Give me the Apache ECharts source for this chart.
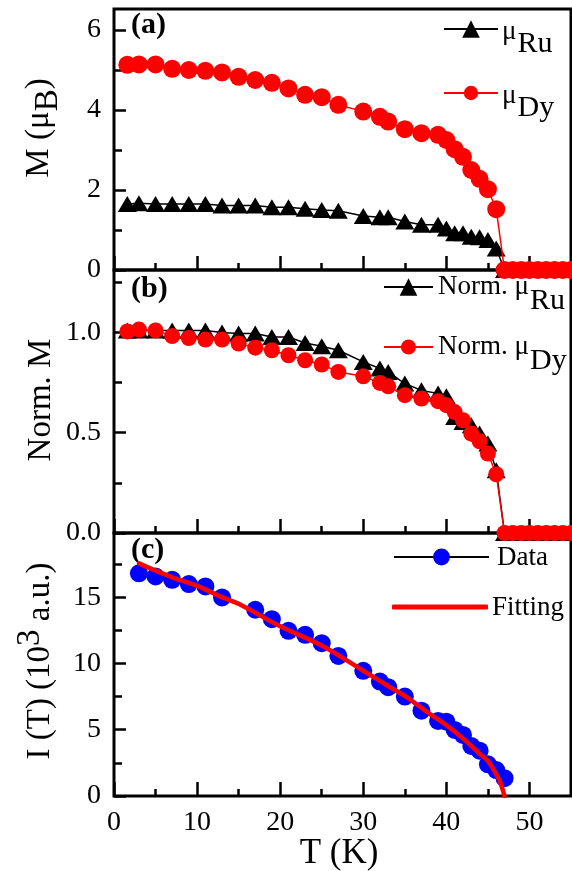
<!DOCTYPE html>
<html><head><meta charset="utf-8">
<script src="https://cdn.jsdelivr.net/npm/echarts@6/dist/echarts.min.js"></script>
<style>html,body{margin:0;padding:0;background:#fff}#c{width:572px;height:871px}</style>
</head><body><div id="c"></div>
<script>
const FONT = '"Liberation Serif", "Times New Roman", serif';

// ---- data ----
const tempAB = [1.6,3,5,7,9,11,13,15,17,19,21,23,25,27,30,32,33,35,37,39,40,41,42,43,44,45,46,47,48,49,50,51,52,53,54,55];
const muRu = [1.65,1.67,1.65,1.65,1.65,1.65,1.61,1.61,1.61,1.57,1.57,1.53,1.50,1.48,1.35,1.32,1.32,1.21,1.13,1.13,1.04,0.92,0.92,0.83,0.82,0.75,0.54,0,0,0,0,0,0,0,0,0];
const muDy = [5.13,5.14,5.14,5.03,5.00,4.98,4.94,4.83,4.75,4.68,4.54,4.38,4.32,4.13,3.96,3.83,3.71,3.52,3.42,3.38,3.25,3.02,2.83,2.50,2.28,2.02,1.52,0,0,0,0,0,0,0,0,0];
const normRu = [1.01,1.01,1.01,1.01,1.01,1.01,1.00,0.994,0.994,0.977,0.977,0.947,0.931,0.911,0.853,0.82,0.803,0.745,0.711,0.695,0.682,0.578,0.553,0.537,0.496,0.446,0.313,0,0,0,0,0,0,0,0,0];
const normDy = [1.005,1.014,1.01,0.982,0.972,0.964,0.964,0.944,0.924,0.911,0.886,0.861,0.840,0.803,0.781,0.748,0.731,0.687,0.670,0.657,0.637,0.603,0.562,0.496,0.457,0.396,0.293,0,0,0,0,0,0,0,0,0];
const tempC = [3,5,7,9,11,13,17,19,21,23,25,27,30,32,33,35,37,39,40,41,42,43,44,45,46,47];
const intensity = [16.8,16.56,16.31,15.99,15.81,14.98,14.05,13.34,12.46,12.16,11.53,10.57,9.44,8.63,8.21,7.50,6.44,5.66,5.61,4.98,4.61,3.78,3.42,2.39,1.96,1.34];
const fitT = [3,5,7,10,13,15,20,25,30,33,35,38,40,42,44,45,46,46.5,47];
const fitI = [17.55,17.0,16.5,15.85,15.0,14.5,12.8,11.35,9.45,8.3,7.55,6.2,5.35,4.35,3.2,2.65,1.65,1.0,0];

// ---- tick values ----
const xMajor = [0,10,20,30,40,50];
const xMinor = [5,15,25,35,45];
const yMajorA = [0,2,4,6], yMinorA = [1,3,5];
const yMajorB = [0,0.5,1.0], yMinorB = [0.25,0.75,1.25];
const yMajorC = [0,5,10,15], yMinorC = [2.5,7.5,12.5,17.5];

const pair = (xs, ys) => xs.map((x, i) => [x, ys[i]]);

const grids = [
  {left:114, right:1, top:9, height:261},
  {left:114, right:1, top:270, height:263},
  {left:114, right:1, top:533, height:263}
].map(g => Object.assign(g, {show:true, borderColor:'#000', borderWidth:3, backgroundColor:'transparent'}));

function tickAxis(kind, g, min, max, vals, len, labels, fmt) {
  return {
    type:'value', gridIndex:g, min:min, max:max,
    position: kind === 'x' ? 'bottom' : 'left',
    axisLine:{show:false, onZero:false},
    splitLine:{show:false},
    axisTick:{show:true, inside:true, length:len, customValues:vals, lineStyle:{color:'#000', width:2.5}},
    axisLabel: labels ? {show:true, customValues:vals, margin:13, fontFamily:FONT, fontSize:28, color:'#000', formatter: fmt} : {show:false}
  };
}

const xAxis = [];
const yAxis = [];
[0,1,2].forEach(g => {
  xAxis.push(tickAxis('x', g, 0, 55, xMajor, 14, g === 2, v => String(v)));
  xAxis.push(tickAxis('x', g, 0, 55, xMinor, 7, false));
});
yAxis.push(tickAxis('y', 0, 0, 6.525, yMajorA, 12, true, v => String(v)));
yAxis.push(tickAxis('y', 0, 0, 6.525, yMinorA, 8, false));
yAxis.push(tickAxis('y', 1, 0, 1.311, yMajorB, 12, true, v => v.toFixed(1)));
yAxis.push(tickAxis('y', 1, 0, 1.311, yMinorB, 8, false));
yAxis.push(tickAxis('y', 2, 0, 19.84, yMajorC, 12, true, v => String(v)));
yAxis.push(tickAxis('y', 2, 0, 19.84, yMinorC, 8, false));

const series = [
  {type:'line', name:'μRu', xAxisIndex:0, yAxisIndex:0, data:pair(tempAB, muRu), clip:false,
   symbol:'triangle', symbolSize:[19,16], itemStyle:{color:'#000'}, lineStyle:{color:'#000', width:1.5}, z:3},
  {type:'line', name:'μDy', xAxisIndex:0, yAxisIndex:0, data:pair(tempAB, muDy), clip:false,
   symbol:'circle', symbolSize:18, itemStyle:{color:'#ff0000'}, lineStyle:{color:'#ff0000', width:1.5}, z:4},
  {type:'line', name:'Norm. μRu', xAxisIndex:2, yAxisIndex:2, data:pair(tempAB, normRu), clip:false,
   symbol:'triangle', symbolSize:[19,16], itemStyle:{color:'#000'}, lineStyle:{color:'#000', width:1.5}, z:3},
  {type:'line', name:'Norm. μDy', xAxisIndex:2, yAxisIndex:2, data:pair(tempAB, normDy), clip:false,
   symbol:'circle', symbolSize:16, itemStyle:{color:'#ff0000'}, lineStyle:{color:'#ff0000', width:1.5}, z:4},
  {type:'line', name:'Data', xAxisIndex:4, yAxisIndex:4, data:pair(tempC, intensity), clip:false,
   symbol:'circle', symbolSize:18, itemStyle:{color:'#0000ff'}, lineStyle:{color:'#000', width:1}, z:3},
  {type:'line', name:'Fitting', xAxisIndex:4, yAxisIndex:4, data:pair(fitT, fitI), smooth:0.3,
   symbol:'none', itemStyle:{color:'#ff0000'}, lineStyle:{color:'#ff0000', width:4.5, cap:'round'}, z:5}
];

// legends: icons from the library, labels drawn as text (subscripts)
const legBase = {orient:'horizontal', padding:0, selectedMode:false, formatter:() => ''};
const legend = [
  Object.assign({}, legBase, {data:['μRu'], left:443, top:29 - 11, itemWidth:54, itemHeight:22}),
  Object.assign({}, legBase, {data:['μDy'], left:443, top:93 - 9, itemWidth:54, itemHeight:18}),
  Object.assign({}, legBase, {data:['Norm. μRu'], left:383, top:287 - 11, itemWidth:49, itemHeight:22}),
  Object.assign({}, legBase, {data:['Norm. μDy'], left:383, top:347 - 9.5, itemWidth:49, itemHeight:19}),
  Object.assign({}, legBase, {data:['Data'], left:393, top:557 - 10.5, itemWidth:95, itemHeight:21}),
  Object.assign({}, legBase, {data:[{name:'Fitting', icon:'roundRect'}], left:392, top:607 - 2.5, itemWidth:96, itemHeight:5})
];

const LFONT = '27px ' + FONT;
const SFONT = '30px ' + FONT;
const measureCtx = document.createElement('canvas').getContext('2d');
function textWidth(t, font) { measureCtx.font = font; return measureCtx.measureText(t).width; }
function subLabel(x, y, main, sub, mDy, sDy) {
  const w = textWidth(main, LFONT);
  return [
    {type:'text', x:x, y:y + mDy, z:10, style:{text:main, font:LFONT, fill:'#000', textVerticalAlign:'middle'}},
    {type:'text', x:x + w + 1, y:y + sDy, z:10, style:{text:sub, font:SFONT, fill:'#000', textVerticalAlign:'middle'}}
  ];
}

const titleFs = 33;
const graphic = [].concat(
  subLabel(502, 29, 'μ', 'Ru', 3, 15),
  subLabel(502, 93, 'μ', 'Dy', 3, 15),
  subLabel(438, 287, 'Norm. μ', 'Ru', 0, 14),
  subLabel(438, 347, 'Norm. μ', 'Dy', 0, 14),
  [
  {type:'text', x:497, y:558, style:{text:'Data', font:LFONT, fill:'#000', textVerticalAlign:'middle'}},
  {type:'text', x:492, y:608, style:{text:'Fitting', font:LFONT, fill:'#000', textVerticalAlign:'middle'}},
  {type:'text', x:131, y:25, style:{text:'(a)', font:'bold 30px ' + FONT, fill:'#000', textVerticalAlign:'middle'}},
  {type:'text', x:131, y:289, style:{text:'(b)', font:'bold 30px ' + FONT, fill:'#000', textVerticalAlign:'middle'}},
  {type:'text', x:131, y:550, style:{text:'(c)', font:'bold 30px ' + FONT, fill:'#000', textVerticalAlign:'middle'}},
  {type:'text', x:39, y:128, rotation:Math.PI/2, style:{text:'{n|M (μ}{s|B}{n|)}', textAlign:'center', textVerticalAlign:'middle',
    rich:{n:{fontFamily:FONT, fontSize:titleFs, fill:'#000'}, s:{fontFamily:FONT, fontSize:titleFs, fill:'#000', padding:[18,0,0,0]}}}},
  {type:'text', x:41, y:400, rotation:Math.PI/2, style:{text:'Norm. M', font:titleFs + 'px ' + FONT, fill:'#000', textAlign:'center', textVerticalAlign:'middle'}},
  {type:'text', x:40, y:661, rotation:Math.PI/2, style:{text:'{n|I (T) (10}{p|3}{n| a.u.)}', textAlign:'center', textVerticalAlign:'middle',
    rich:{n:{fontFamily:FONT, fontSize:titleFs, fill:'#000'}, p:{fontFamily:FONT, fontSize:titleFs, fill:'#000', padding:[0,0,20,0]}}}},
  {type:'text', x:339, y:854, style:{text:'T (K)', font:'35px ' + FONT, fill:'#000', textAlign:'center', textVerticalAlign:'middle'}}
  ]
);

const chart = echarts.init(document.getElementById('c'), null, {renderer:'canvas'});
chart.setOption({
  backgroundColor:'#fff',
  animation:false,
  grid:grids, xAxis:xAxis, yAxis:yAxis, series:series, legend:legend, graphic:graphic
});
</script></body></html>
